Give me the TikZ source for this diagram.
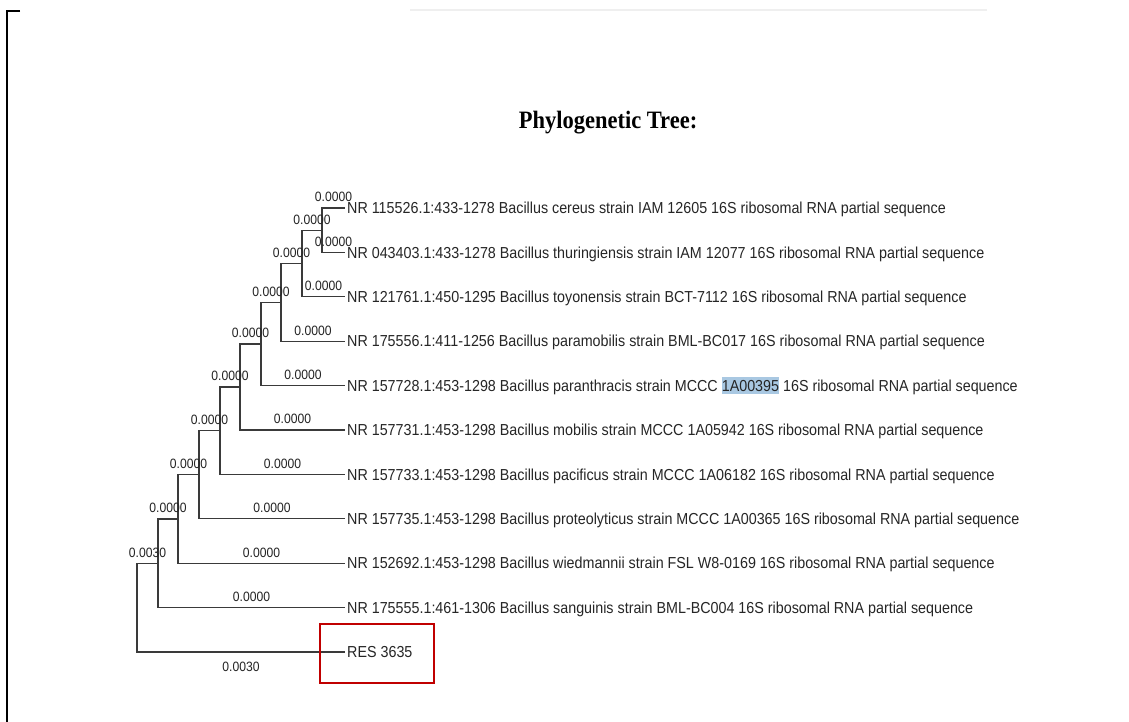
\documentclass[tikz,border=0pt]{standalone}
\usepackage{fontspec}
\newfontfamily\leaffont[FakeStretch=0.9]{Liberation Sans}
\newfontfamily\headfont[FakeStretch=0.9]{Liberation Serif}
\definecolor{branch}{HTML}{3A3A3A}
\definecolor{ink}{HTML}{262626}
\definecolor{boxred}{HTML}{C00000}
\definecolor{hilite}{HTML}{A9C8E2}
\definecolor{rulegray}{HTML}{EFEFEF}

\begin{document}
\begin{tikzpicture}[x=1pt,y=-1pt,
  branchline/.style={draw=branch,line width=1.3pt},
  leaf/.style={anchor=west,inner xsep=2pt,inner ysep=0pt,text height=11.4pt,
    text depth=0pt,text=ink,font=\leaffont\fontsize{15.9}{19}\selectfont},
  blen/.style={inner sep=0pt,text height=9.7pt,text depth=0pt,text=ink,
    font=\leaffont\fontsize{13.5}{16}\selectfont},
  up/.style={pos=0.75,above=5.5pt},
]
\useasboundingbox (0,0) rectangle (1129,721);
\fill[white] (0,0) rectangle (1129,721);

% page frame corner and faint header rule
\draw[line width=2pt] (20,11) -- (7,11) -- (7,722);
\draw[line width=1.5pt,draw=rulegray] (410,10) -- (987,10);

% heading
\node[font=\headfont\bfseries\fontsize{25}{30}\selectfont,anchor=base] (title) at (608,128) {Phylogenetic Tree:};

% leaves
\node[leaf] (A) at (345,208.0) {NR 115526.1:433-1278 Bacillus cereus strain IAM 12605 16S ribosomal RNA partial sequence};
\node[leaf] (B) at (345,252.4) {NR 043403.1:433-1278 Bacillus thuringiensis strain IAM 12077 16S ribosomal RNA partial sequence};
\node[leaf] (C) at (345,296.8) {NR 121761.1:450-1295 Bacillus toyonensis strain BCT-7112 16S ribosomal RNA partial sequence};
\node[leaf] (D) at (345,341.2) {NR 175556.1:411-1256 Bacillus paramobilis strain BML-BC017 16S ribosomal RNA partial sequence};
\node[leaf] (E) at (345,385.6) {NR 157728.1:453-1298 Bacillus paranthracis strain MCCC {\setlength{\fboxsep}{0pt}\colorbox{hilite}{\rule[-2.8pt]{0pt}{16.8pt}1A00395}} 16S ribosomal RNA partial sequence};
\node[leaf] (F) at (345,430.0) {NR 157731.1:453-1298 Bacillus mobilis strain MCCC 1A05942 16S ribosomal RNA partial sequence};
\node[leaf] (G) at (345,474.4) {NR 157733.1:453-1298 Bacillus pacificus strain MCCC 1A06182 16S ribosomal RNA partial sequence};
\node[leaf] (H) at (345,518.8) {NR 157735.1:453-1298 Bacillus proteolyticus strain MCCC 1A00365 16S ribosomal RNA partial sequence};
\node[leaf] (I) at (345,563.2) {NR 152692.1:453-1298 Bacillus wiedmannii strain FSL W8-0169 16S ribosomal RNA partial sequence};
\node[leaf] (J) at (345,607.6) {NR 175555.1:461-1306 Bacillus sanguinis strain BML-BC004 16S ribosomal RNA partial sequence};
\node[leaf] (R) at (345,652.0) {RES 3635};

% internal nodes
\coordinate (n9) at (322,230.2);
\coordinate (n8) at (302,263.5);
\coordinate (n7) at (281,302.35);
\coordinate (n6) at (261,343.98);
\coordinate (n5) at (240,386.99);
\coordinate (n4) at (220,430.7);
\coordinate (n3) at (199,474.75);
\coordinate (n2) at (178,518.97);
\coordinate (n1) at (158,563.3);
\coordinate (n0) at (137,607.6);

% branches with lengths
\draw[branchline] (n9) |- (A.west) node[blen,up] (lA) {0.0000};
\draw[branchline] (n9) |- (B.west) node[blen,up] (lB) {0.0000};
\draw[branchline] (n8) |- (n9) node[blen,up] (l9) {0.0000};
\draw[branchline] (n8) |- (C.west) node[blen,up] (lC) {0.0000};
\draw[branchline] (n7) |- (n8) node[blen,up] (l8) {0.0000};
\draw[branchline] (n7) |- (D.west) node[blen,up] (lD) {0.0000};
\draw[branchline] (n6) |- (n7) node[blen,up] (l7) {0.0000};
\draw[branchline] (n6) |- (E.west) node[blen,up] (lE) {0.0000};
\draw[branchline] (n5) |- (n6) node[blen,up] (l6) {0.0000};
\draw[branchline] (n5) |- (F.west) node[blen,up] (lF) {0.0000};
\draw[branchline] (n4) |- (n5) node[blen,up] (l5) {0.0000};
\draw[branchline] (n4) |- (G.west) node[blen,up] (lG) {0.0000};
\draw[branchline] (n3) |- (n4) node[blen,up] (l4) {0.0000};
\draw[branchline] (n3) |- (H.west) node[blen,up] (lH) {0.0000};
\draw[branchline] (n2) |- (n3) node[blen,up] (l3) {0.0000};
\draw[branchline] (n2) |- (I.west) node[blen,up] (lI) {0.0000};
\draw[branchline] (n1) |- (n2) node[blen,up] (l2) {0.0000};
\draw[branchline] (n1) |- (J.west) node[blen,up] (lJ) {0.0000};
\draw[branchline] (n0) |- (n1) node[blen,up] (l1) {0.0030};
\draw[branchline] (n0) |- (R.west) node[blen,pos=0.75,below=9pt] (lR) {0.0030};

% frame round the query sequence
\node[draw=boxred,line width=2.5pt,minimum width=114pt,minimum height=59pt,inner sep=0pt] (resframe) at (377,653.5) {};
\end{tikzpicture}
\end{document}
